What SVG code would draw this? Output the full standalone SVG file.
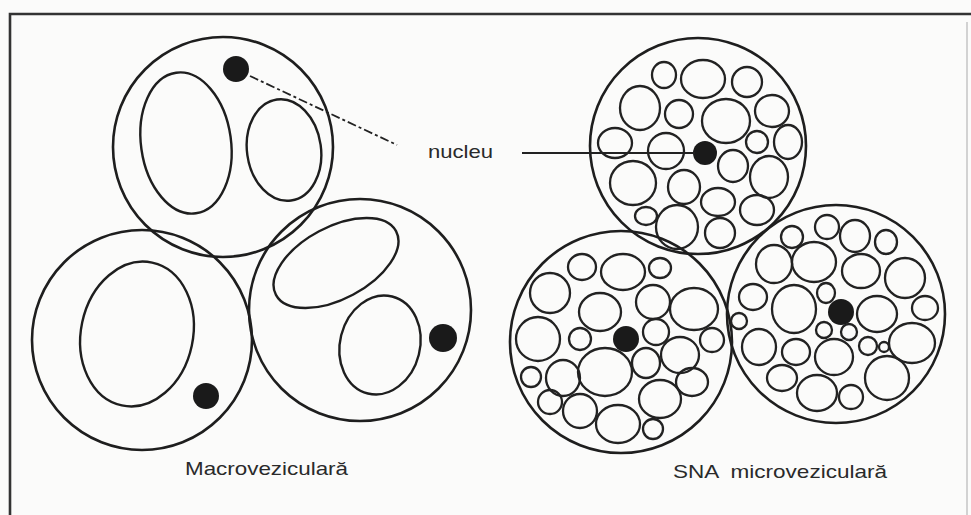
<svg xmlns="http://www.w3.org/2000/svg" width="971" height="515" viewBox="0 0 971 515">
  <style>
    .cell { fill: none; stroke: #1e1e1e; stroke-width: 2.6; }
    .vac { fill: none; stroke: #1e1e1e; stroke-width: 2.4; }
    .ves { fill: none; stroke: #222; stroke-width: 2.3; }
    .nuc { fill: #1a1a1a; stroke: none; }
    .lbl { font-family: "Liberation Sans", Arial, sans-serif; font-size: 19px; fill: #2a2a2a; }
    .frame { stroke: #333; stroke-width: 2.6; fill: none; }
  </style>
  <rect x="0" y="0" width="971" height="515" fill="#fbfbfa"/>

  <!-- frame -->
  <g id="frame">
    <path class="frame" d="M10,515 V14 H971"/>
    <line x1="967" y1="22" x2="967" y2="515" stroke="#c4c4c4" stroke-width="1.5"/>
  </g>

  <!-- macrovesicular cells -->
  <g id="macro-top">
    <circle class="cell" cx="223" cy="147" r="110"/>
    <ellipse class="vac" cx="186" cy="143" rx="45" ry="71" transform="rotate(-8 186 143)"/>
    <ellipse class="vac" cx="284" cy="150" rx="37" ry="51" transform="rotate(-8 284 150)"/>
    <circle class="nuc" cx="236" cy="69" r="13"/>
  </g>
  <g id="macro-left">
    <circle class="cell" cx="142" cy="340" r="110"/>
    <ellipse class="vac" cx="137" cy="334" rx="56" ry="73" transform="rotate(12 137 334)"/>
    <circle class="nuc" cx="206" cy="396" r="13"/>
  </g>
  <g id="macro-right">
    <circle class="cell" cx="360" cy="310" r="111"/>
    <ellipse class="vac" cx="336" cy="263" rx="68" ry="36" transform="rotate(-28 336 263)"/>
    <ellipse class="vac" cx="380" cy="345" rx="40" ry="50" transform="rotate(14 380 345)"/>
    <circle class="nuc" cx="443" cy="338" r="14"/>
  </g>

  <!-- microvesicular cells -->
  <g id="micro-top">
    <circle class="cell" cx="698" cy="146" r="108"/>
    <ellipse class="ves" cx="664" cy="75" rx="12" ry="13"/>
    <ellipse class="ves" cx="703" cy="79" rx="22" ry="19"/>
    <ellipse class="ves" cx="747" cy="82" rx="15" ry="15"/>
    <ellipse class="ves" cx="640" cy="108" rx="20" ry="22"/>
    <ellipse class="ves" cx="679" cy="114" rx="14" ry="14"/>
    <ellipse class="ves" cx="726" cy="121" rx="24" ry="22"/>
    <ellipse class="ves" cx="772" cy="111" rx="17" ry="16"/>
    <ellipse class="ves" cx="615" cy="143" rx="17" ry="15"/>
    <ellipse class="ves" cx="666" cy="151" rx="18" ry="18"/>
    <ellipse class="ves" cx="757" cy="142" rx="11" ry="11"/>
    <ellipse class="ves" cx="788" cy="142" rx="14" ry="17"/>
    <ellipse class="ves" cx="733" cy="166" rx="15" ry="16"/>
    <ellipse class="ves" cx="769" cy="177" rx="19" ry="21"/>
    <ellipse class="ves" cx="633" cy="183" rx="23" ry="22"/>
    <ellipse class="ves" cx="684" cy="187" rx="16" ry="17"/>
    <ellipse class="ves" cx="718" cy="202" rx="17" ry="14"/>
    <ellipse class="ves" cx="757" cy="210" rx="17" ry="15"/>
    <ellipse class="ves" cx="646" cy="216" rx="11" ry="9"/>
    <ellipse class="ves" cx="677" cy="227" rx="21" ry="22"/>
    <ellipse class="ves" cx="720" cy="233" rx="15" ry="15"/>
    <circle class="nuc" cx="705" cy="153" r="12"/>
  </g>
  <g id="micro-left">
    <circle class="cell" cx="621" cy="342" r="111"/>
    <ellipse class="ves" cx="582" cy="267" rx="14" ry="13"/>
    <ellipse class="ves" cx="623" cy="272" rx="22" ry="18"/>
    <ellipse class="ves" cx="660" cy="268" rx="11" ry="10"/>
    <ellipse class="ves" cx="550" cy="293" rx="20" ry="20"/>
    <ellipse class="ves" cx="600" cy="312" rx="21" ry="19"/>
    <ellipse class="ves" cx="653" cy="302" rx="17" ry="17"/>
    <ellipse class="ves" cx="694" cy="309" rx="24" ry="21"/>
    <ellipse class="ves" cx="538" cy="339" rx="22" ry="22"/>
    <ellipse class="ves" cx="580" cy="339" rx="11" ry="11"/>
    <ellipse class="ves" cx="656" cy="332" rx="13" ry="13"/>
    <ellipse class="ves" cx="712" cy="340" rx="12" ry="12"/>
    <ellipse class="ves" cx="605" cy="372" rx="27" ry="24"/>
    <ellipse class="ves" cx="646" cy="363" rx="14" ry="15"/>
    <ellipse class="ves" cx="680" cy="355" rx="19" ry="18"/>
    <ellipse class="ves" cx="531" cy="377" rx="10" ry="10"/>
    <ellipse class="ves" cx="563" cy="378" rx="17" ry="18"/>
    <ellipse class="ves" cx="692" cy="382" rx="16" ry="14"/>
    <ellipse class="ves" cx="660" cy="399" rx="21" ry="19"/>
    <ellipse class="ves" cx="550" cy="402" rx="12" ry="12"/>
    <ellipse class="ves" cx="580" cy="411" rx="17" ry="17"/>
    <ellipse class="ves" cx="618" cy="424" rx="22" ry="19"/>
    <ellipse class="ves" cx="653" cy="429" rx="10" ry="10"/>
    <circle class="nuc" cx="626" cy="339" r="13"/>
  </g>
  <g id="micro-right">
    <circle class="cell" cx="836" cy="314" r="109"/>
    <ellipse class="ves" cx="827" cy="227" rx="12" ry="12"/>
    <ellipse class="ves" cx="855" cy="236" rx="15" ry="16"/>
    <ellipse class="ves" cx="886" cy="242" rx="11" ry="12"/>
    <ellipse class="ves" cx="792" cy="237" rx="11" ry="11"/>
    <ellipse class="ves" cx="774" cy="264" rx="18" ry="19"/>
    <ellipse class="ves" cx="814" cy="262" rx="22" ry="20"/>
    <ellipse class="ves" cx="861" cy="271" rx="19" ry="17"/>
    <ellipse class="ves" cx="905" cy="278" rx="20" ry="20"/>
    <ellipse class="ves" cx="753" cy="297" rx="14" ry="13"/>
    <ellipse class="ves" cx="794" cy="309" rx="22" ry="24"/>
    <ellipse class="ves" cx="826" cy="293" rx="9" ry="10"/>
    <ellipse class="ves" cx="877" cy="314" rx="20" ry="18"/>
    <ellipse class="ves" cx="925" cy="308" rx="13" ry="12"/>
    <ellipse class="ves" cx="739" cy="321" rx="8" ry="8"/>
    <ellipse class="ves" cx="759" cy="347" rx="17" ry="18"/>
    <ellipse class="ves" cx="824" cy="330" rx="8" ry="8"/>
    <ellipse class="ves" cx="849" cy="332" rx="8" ry="8"/>
    <ellipse class="ves" cx="796" cy="352" rx="14" ry="13"/>
    <ellipse class="ves" cx="912" cy="343" rx="23" ry="20"/>
    <ellipse class="ves" cx="868" cy="346" rx="9" ry="9"/>
    <ellipse class="ves" cx="884" cy="347" rx="5" ry="5"/>
    <ellipse class="ves" cx="834" cy="357" rx="19" ry="18"/>
    <ellipse class="ves" cx="782" cy="378" rx="15" ry="13"/>
    <ellipse class="ves" cx="887" cy="378" rx="22" ry="22"/>
    <ellipse class="ves" cx="817" cy="393" rx="20" ry="18"/>
    <ellipse class="ves" cx="851" cy="397" rx="12" ry="12"/>
    <circle class="nuc" cx="841" cy="312" r="13"/>
  </g>

  <!-- pointer lines to the nuclei -->
  <g id="connectors" fill="none" stroke="#222">
    <line x1="250" y1="76" x2="397" y2="145" stroke-width="1.8" stroke-dasharray="9 3 3 3"/>
    <line x1="522" y1="153" x2="695" y2="153" stroke-width="2"/>
  </g>

  <!-- labels -->
  <g id="labels">
    <text class="lbl" x="428" y="158" textLength="65" lengthAdjust="spacingAndGlyphs">nucleu</text>
    <text class="lbl" x="185" y="475" textLength="163" lengthAdjust="spacingAndGlyphs">Macroveziculară</text>
    <text class="lbl" x="673" y="478" textLength="214" lengthAdjust="spacingAndGlyphs" xml:space="preserve">SNA  microveziculară</text>
  </g>
</svg>
